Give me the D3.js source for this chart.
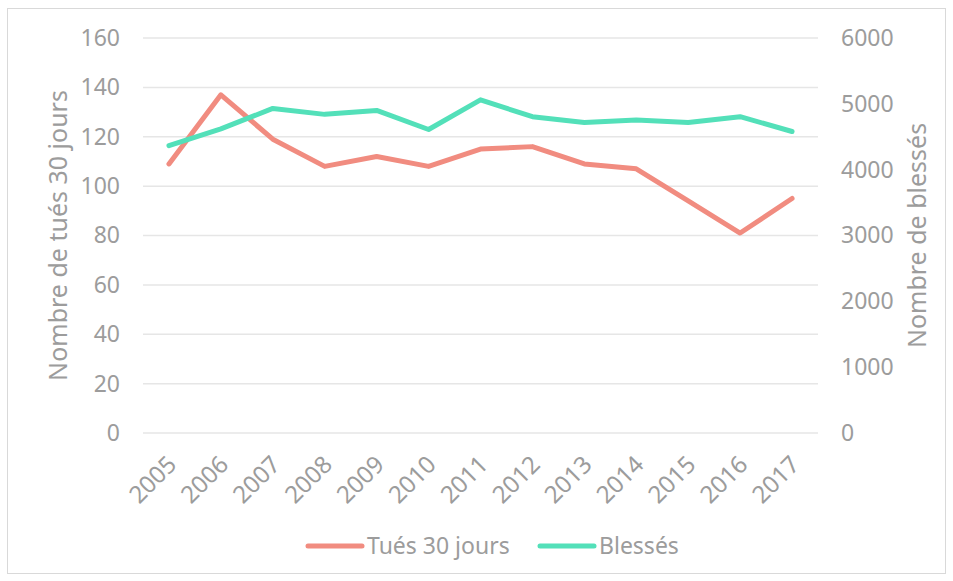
<!DOCTYPE html>
<html>
<head>
<meta charset="utf-8">
<script src="https://cdn.jsdelivr.net/npm/d3@7"></script>
<style>
  body { margin: 0; background: #fff; }
  text { font-family: "Noto Sans", sans-serif; fill: #9c9c9c; }
</style>
</head>
<body>
<div id="chart"></div>
<script>
var years = ["2005", "2006", "2007", "2008", "2009", "2010", "2011", "2012", "2013", "2014", "2015", "2016", "2017"];
var tues = [109, 137, 119, 108, 112, 108, 115, 116, 109, 107, 94, 81, 95];
var blesses = [4365, 4620, 4930, 4840, 4900, 4610, 5060, 4805, 4715, 4755, 4715, 4805, 4580];
var leftTicks = [0, 20, 40, 60, 80, 100, 120, 140, 160];
var rightTicks = [0, 1000, 2000, 3000, 4000, 5000, 6000];

var W = 953, H = 581,
  margin = {top: 38, right: 135, bottom: 148, left: 143},
  width = W - margin.left - margin.right,
  height = H - margin.top - margin.bottom;

var svg = d3.select("#chart").append("svg")
  .attr("width", W)
  .attr("height", H);

svg.append("rect")
  .attr("x", 7.5).attr("y", 8.5)
  .attr("width", W - 15).attr("height", H - 16)
  .attr("fill", "#fff")
  .attr("stroke", "#d9d9d9");

var g = svg.append("g")
  .attr("transform", "translate(" + margin.left + "," + margin.top + ")");

var x = d3.scaleBand().domain(years).range([0, width]);
var yL = d3.scaleLinear().domain([0, 160]).range([height, 0]);
var yR = d3.scaleLinear().domain([0, 6000]).range([height, 0]);

var cx = function(i) { return x(years[i]) + x.bandwidth() / 2; };

// grid
g.selectAll(".grid")
  .data(leftTicks)
  .enter().append("line")
  .attr("x1", 0).attr("x2", width)
  .attr("y1", function(d) { return yL(d); })
  .attr("y2", function(d) { return yL(d); })
  .attr("stroke", "#e6e6e6")
  .attr("stroke-width", 1.5);

// left axis
var axL = g.append("g")
  .call(d3.axisLeft(yL).tickValues(leftTicks).tickSize(0).tickPadding(23));
axL.select(".domain").remove();
axL.selectAll("text").style("font-size", "23px").attr("fill", "#9c9c9c");

// right axis
var axR = g.append("g")
  .attr("transform", "translate(" + width + ",0)")
  .call(d3.axisRight(yR).tickValues(rightTicks).tickFormat(d3.format("d")).tickSize(0).tickPadding(23));
axR.select(".domain").remove();
axR.selectAll("text").style("font-size", "23px").attr("fill", "#9c9c9c");

// x axis
var axX = g.append("g")
  .attr("transform", "translate(0," + height + ")")
  .call(d3.axisBottom(x).tickSize(0).tickPadding(0));
axX.select(".domain").remove();
axX.selectAll("text")
  .style("font-size", "24px")
  .attr("fill", "#9c9c9c")
  .attr("text-anchor", "end")
  .attr("dy", null)
  .attr("y", 0)
  .attr("transform", "translate(9,33) rotate(-45)");

// axis titles
svg.append("text")
  .attr("transform", "translate(67," + (margin.top + height / 2) + ") rotate(-90)")
  .attr("text-anchor", "middle")
  .style("font-size", "25px")
  .text("Nombre de tués 30 jours");

svg.append("text")
  .attr("transform", "translate(926," + (margin.top + height / 2) + ") rotate(-90)")
  .attr("text-anchor", "middle")
  .style("font-size", "25px")
  .text("Nombre de blessés");

// lines
var lineL = d3.line().x(function(d, i) { return cx(i); }).y(function(d) { return yL(d); });
var lineR = d3.line().x(function(d, i) { return cx(i); }).y(function(d) { return yR(d); });

g.append("path")
  .datum(tues)
  .attr("d", lineL)
  .attr("fill", "none")
  .attr("stroke", "#f18c80")
  .attr("stroke-width", 5)
  .attr("stroke-linecap", "round")
  .attr("stroke-linejoin", "round");

g.append("path")
  .datum(blesses)
  .attr("d", lineR)
  .attr("fill", "none")
  .attr("stroke", "#53e0b9")
  .attr("stroke-width", 5)
  .attr("stroke-linecap", "round")
  .attr("stroke-linejoin", "round");

// legend
var legend = svg.selectAll(".legend")
  .data([{name: "Tués 30 jours", color: "#f18c80", x: 308}, {name: "Blessés", color: "#53e0b9", x: 540}])
  .enter().append("g")
  .attr("class", "legend")
  .attr("transform", function(d) { return "translate(" + d.x + ",546)"; });

legend.append("line")
  .attr("x1", 0).attr("x2", 54)
  .attr("stroke", function(d) { return d.color; })
  .attr("stroke-width", 5)
  .attr("stroke-linecap", "round");

legend.append("text")
  .attr("x", 59)
  .attr("dy", "0.35em")
  .style("font-size", "23px")
  .text(function(d) { return d.name; });
</script>
</body>
</html>
